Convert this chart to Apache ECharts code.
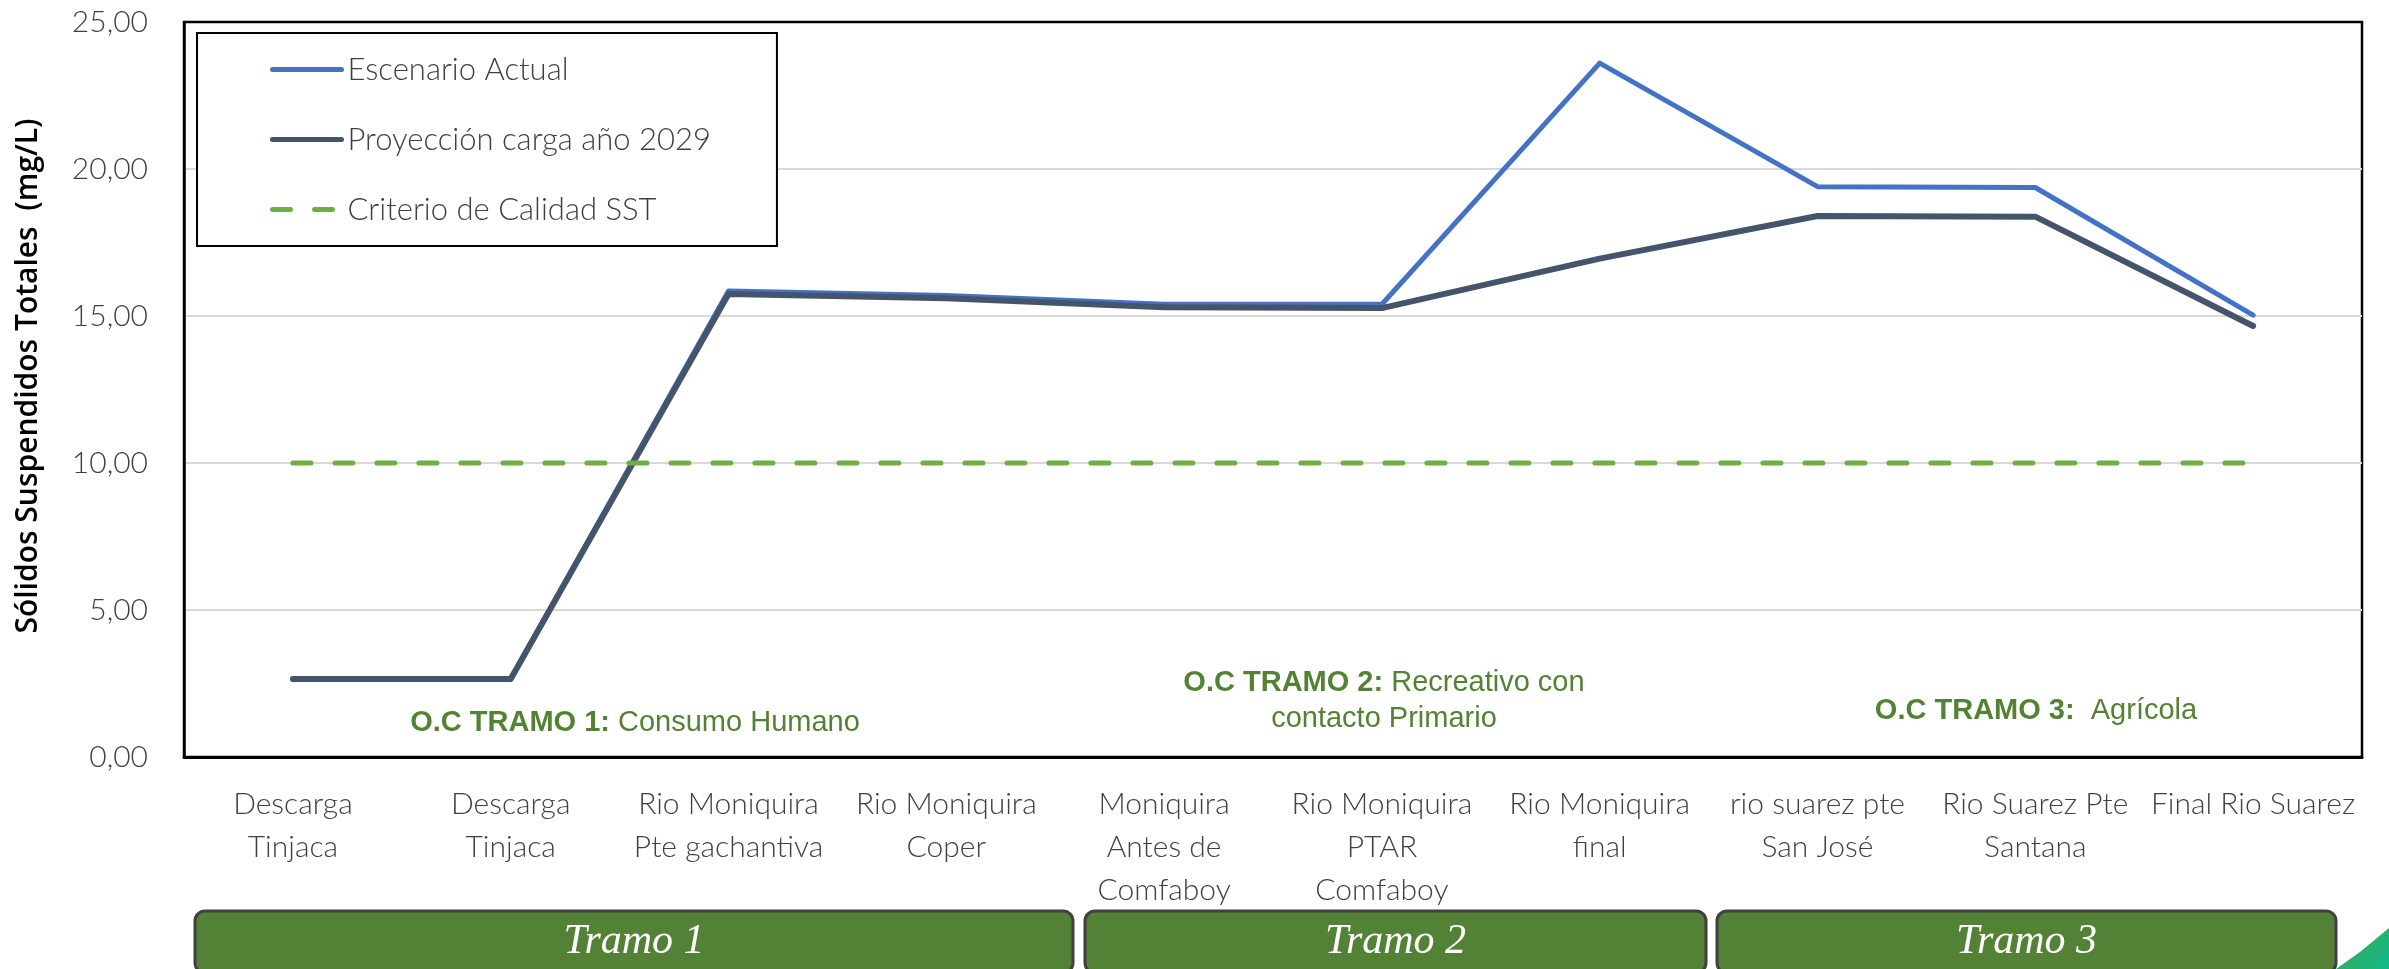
<!DOCTYPE html>
<html>
<head>
<meta charset="utf-8">
<script src="https://cdn.jsdelivr.net/npm/echarts@6/dist/echarts.min.js"></script>
<style>
html,body{margin:0;padding:0;background:#fff;}
#chart{width:2389px;height:969px;}
</style>
</head>
<body>
<div id="chart"></div>
<script>
// ---- data ----
const categories = [
  'Descarga\nTinjaca',
  'Descarga\nTinjaca',
  'Rio Moniquira\nPte gachantiva',
  'Rio Moniquira\nCoper',
  'Moniquira\nAntes de\nComfaboy',
  'Rio Moniquira\nPTAR\nComfaboy',
  'Rio Moniquira\nfinal',
  'rio suarez pte\nSan José',
  'Rio Suarez Pte\nSantana',
  'Final Rio Suarez'
];
const escenarioActual = [2.65, 2.65, 15.85, 15.7, 15.4, 15.4, 23.6, 19.4, 19.37, 15.03];
const proyeccion2029 = [2.65, 2.65, 15.75, 15.6, 15.3, 15.27, 16.95, 18.4, 18.38, 14.66];
const criterioSST = [10, 10, 10, 10, 10, 10, 10, 10, 10, 10];
const seriesNames = ['Escenario Actual', 'Proyección carga año 2029', 'Criterio de Calidad SST'];
const yTicks = { min: 0, max: 25, interval: 5 };
const yAxisTitle = 'Sólidos Suspendidos Totales  (mg/L)';
const tramoLabels = ['Tramo 1', 'Tramo 2', 'Tramo 3'];

const lightFont = 'Lato, "Open Sans", "DejaVu Sans", sans-serif';
const green = '#548235';

const chart = echarts.init(document.getElementById('chart'));

function tramoBox(x1, x2, label) {
  return [
    {
      type: 'rect',
      shape: { x: x1, y: 911, width: x2 - x1, height: 62, r: 10 },
      style: { fill: '#538135', stroke: '#404040', lineWidth: 3 },
      z: 10
    },
    {
      type: 'text',
      x: (x1 + x2) / 2,
      y: 942,
      style: {
        text: label,
        fill: '#ffffff',
        font: 'italic 42px "Liberation Serif", "DejaVu Serif", serif',
        align: 'center',
        verticalAlign: 'middle'
      },
      z: 11
    }
  ];
}

function ocText(x, y, boldPart, rest) {
  return {
    type: 'text',
    x: x, y: y,
    style: {
      text: '{b|' + boldPart + '}' + rest,
      fill: green,
      fontFamily: '"Liberation Sans", Arial, sans-serif',
      fontSize: 29,
      align: 'center',
      verticalAlign: 'middle',
      lineHeight: 36,
      rich: {
        b: { fontWeight: 'bold', fill: green, fontSize: 29, fontFamily: '"Liberation Sans", Arial, sans-serif' }
      }
    },
    z: 5
  };
}

const option = {
  backgroundColor: '#ffffff',
  animation: false,
  grid: {
    left: 184, right: 27, top: 22, bottom: 212,
    show: true, borderColor: '#000000', borderWidth: 2.5, backgroundColor: 'transparent'
  },
  legend: {
    data: seriesNames,
    orient: 'vertical',
    left: 197, top: 33,
    backgroundColor: '#ffffff',
    borderColor: '#000000',
    borderWidth: 2,
    padding: [21, 66, 21, 73],
    itemWidth: 69,
    itemHeight: 28,
    itemGap: 39,
    itemStyle: { opacity: 0 },
    lineStyle: { width: 5 },
    textStyle: { fontFamily: lightFont, fontWeight: 300, fontSize: 31, color: '#404040', padding: [0, 0, 0, 1] },
    z: 20
  },
  xAxis: {
    type: 'category',
    data: categories,
    boundaryGap: true,
    axisTick: { show: false },
    axisLine: { show: true, lineStyle: { color: '#000', width: 3 } },
    axisLabel: {
      interval: 0,
      margin: 26,
      fontFamily: lightFont,
      fontWeight: 300,
      fontSize: 30,
      lineHeight: 43,
      color: '#404040',
      align: 'center'
    }
  },
  yAxis: {
    type: 'value',
    min: yTicks.min, max: yTicks.max, interval: yTicks.interval,
    axisLine: { show: true, lineStyle: { color: '#000', width: 2.5 } },
    axisTick: { show: false },
    splitLine: { showMaxLine: false, showMinLine: false, lineStyle: { color: '#d9d9d9', width: 2 } },
    axisLabel: {
      margin: 36,
      fontFamily: lightFont,
      fontWeight: 300,
      fontSize: 30,
      color: '#404040',
      formatter: v => v.toFixed(2).replace('.', ',')
    }
  },
  series: [
    {
      name: seriesNames[0], type: 'line', data: escenarioActual,
      symbol: 'none', color: '#4472C4',
      lineStyle: { color: '#4472C4', width: 5, cap: 'round', join: 'round' }, z: 2
    },
    {
      name: seriesNames[1], type: 'line', data: proyeccion2029,
      symbol: 'none', color: '#44546A',
      lineStyle: { color: '#44546A', width: 6, cap: 'round', join: 'round' }, z: 3
    },
    {
      name: seriesNames[2], type: 'line', data: criterioSST,
      symbol: 'none', color: '#70AD47',
      lineStyle: { color: '#70AD47', width: 5, type: [18, 24], cap: 'round' }, z: 4
    }
  ],
  graphic: [
    {
      type: 'text',
      x: 28, y: 376,
      rotation: Math.PI / 2,
      style: {
        text: yAxisTitle,
        fill: '#000000',
        font: '600 30px "Open Sans", "DejaVu Sans", sans-serif',
        align: 'center',
        verticalAlign: 'middle'
      }
    },
    ocText(635, 723, 'O.C TRAMO 1:', ' Consumo Humano'),
    ocText(1384, 701, 'O.C TRAMO 2:', ' Recreativo con\ncontacto Primario'),
    ocText(2036, 711, 'O.C TRAMO 3:', '  Agrícola'),
    ...tramoBox(195, 1073, tramoLabels[0]),
    ...tramoBox(1085, 1706, tramoLabels[1]),
    ...tramoBox(1717, 2336, tramoLabels[2]),
    {
      type: 'polygon',
      shape: { points: [[2336, 969], [2360, 952], [2389, 928], [2389, 969]] },
      style: {
        fill: new echarts.graphic.LinearGradient(0, 0, 1, 1, [
          { offset: 0, color: '#3aa84a' },
          { offset: 1, color: '#14b98c' }
        ])
      },
      z: 1
    }
  ]
};

chart.setOption(option);
</script>
</body>
</html>
